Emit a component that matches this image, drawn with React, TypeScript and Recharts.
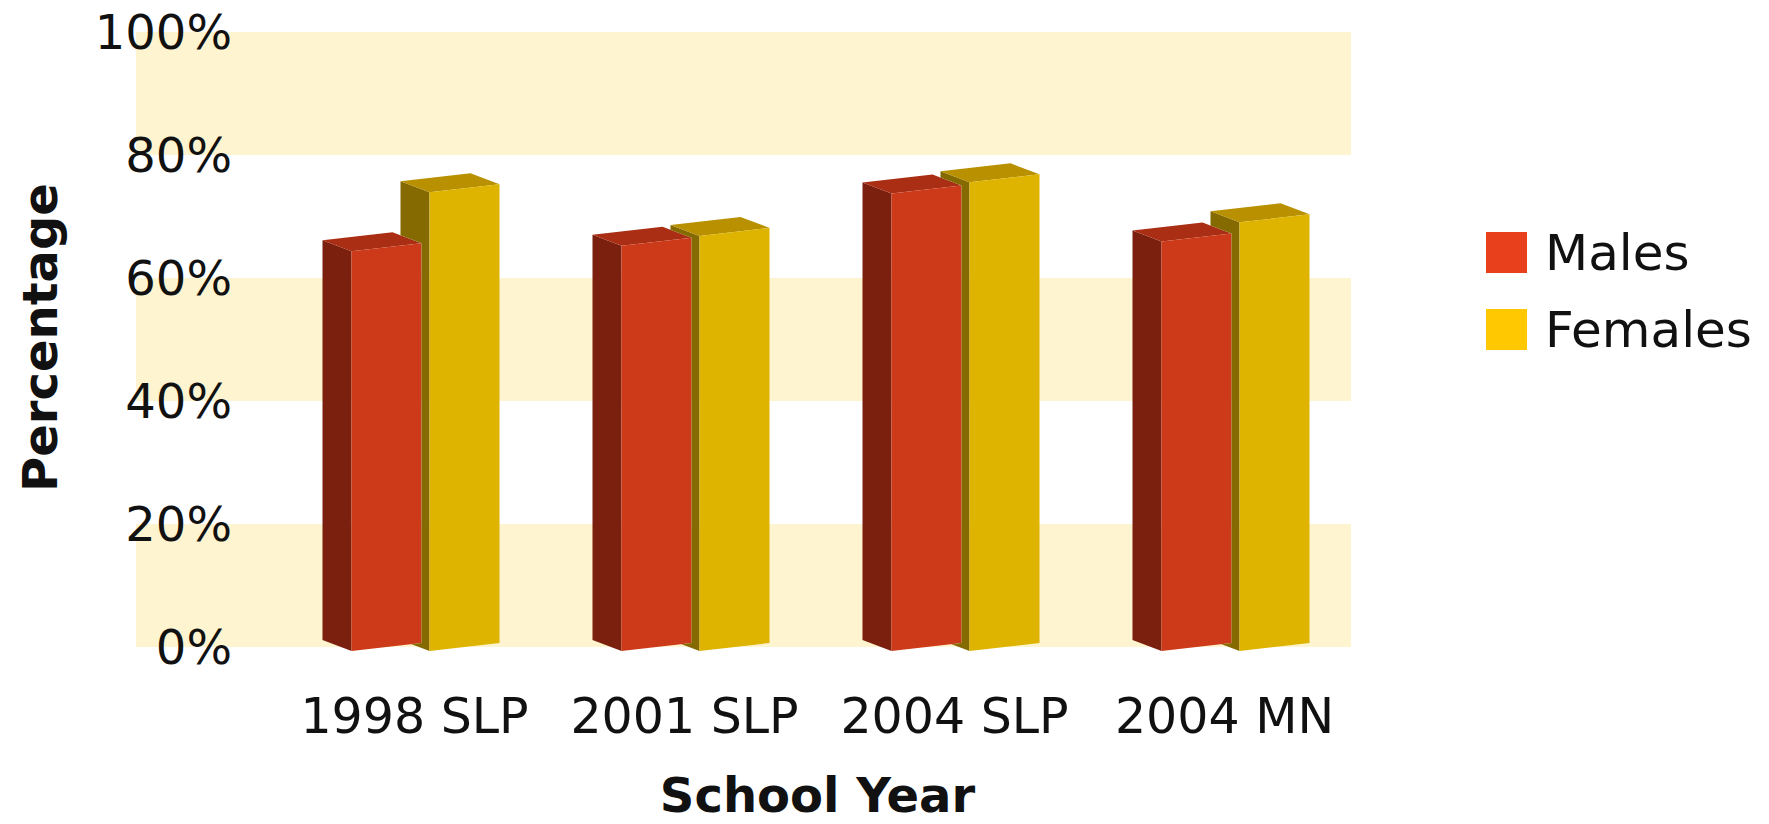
import { BarChart, Bar, XAxis, YAxis, CartesianGrid, Legend, Label } from 'recharts'

const schoolYears = ['1998 SLP', '2001 SLP', '2004 SLP', '2004 MN']
const males = [65, 65.9, 74.4, 66.6]
const females = [74.6, 67.5, 76.2, 69.7]
const percentTicks = [0, 20, 40, 60, 80, 100]
const seriesOrder = ['males', 'females']

const data = schoolYears.map((year, i) => ({ year, males: males[i], females: females[i] }))

const FONT = '"DejaVu Sans", Verdana, sans-serif'
const BAR_SIZE = 70
const BAR_GAP = 8
// fake 3d depth: back face sits up and to the left
const DEPTH_X = -29
const DEPTH_Y = -11
const SKEW = 4

const faces: Record<string, { front: string; side: string; top: string; legend: string }> = {
  males: { front: '#CD3A19', side: '#7B1F0E', top: '#A92E14', legend: '#E8401C' },
  females: { front: '#DEB400', side: '#846A00', top: '#B89000', legend: '#FFC800' },
}

const pts = (list: number[][]) => list.map((p) => p.join(',')).join(' ')

function Bar3D(props: any) {
  const { x, y, width: w, height: h, series, payload, index } = props
  if (!w || h == null) return null
  const c = faces[series]
  const base = y + h
  const front = [
    [x, y + SKEW],
    [x + w, y - SKEW],
    [x + w, base - SKEW],
    [x, base + SKEW],
  ]
  const side = [
    [x + DEPTH_X, y + SKEW + DEPTH_Y],
    [x, y + SKEW],
    [x, base + SKEW],
    [x + DEPTH_X, base + SKEW + DEPTH_Y],
  ]
  const top = [
    [x, y + SKEW],
    [x + w, y - SKEW],
    [x + w + DEPTH_X, y - SKEW + DEPTH_Y],
    [x + DEPTH_X, y + SKEW + DEPTH_Y],
  ]

  // the female side face hides behind the male bar next to it
  let mask: any = null
  if (series === 'females' && payload) {
    const unit = h / payload.females
    const mTop = base - payload.males * unit
    const mR = x - BAR_GAP
    const mL = mR - w
    const silhouette = [
      [mL, mTop + SKEW],
      [mL + DEPTH_X, mTop + SKEW + DEPTH_Y],
      [mR + DEPTH_X, mTop - SKEW + DEPTH_Y],
      [mR, mTop - SKEW],
      [mR, base - SKEW],
      [mL, base + SKEW],
    ]
    mask = (
      <mask id={`fmask-${index}`} maskUnits="userSpaceOnUse" x={0} y={0} width={1769} height={824}>
        <rect x={0} y={0} width={1769} height={824} fill="#fff" />
        <polygon points={pts(silhouette)} fill="#000" />
      </mask>
    )
  }

  return (
    <g>
      {mask && <defs>{mask}</defs>}
      <polygon
        points={pts(side)}
        fill={c.side}
        mask={mask ? `url(#fmask-${index})` : undefined}
      />
      <polygon points={pts(top)} fill={c.top} />
      <polygon points={pts(front)} fill={c.front} />
    </g>
  )
}

function YTick(props: any) {
  const { y, payload } = props
  return (
    <text x={232} y={y} dy="0.36em" textAnchor="end" fontFamily={FONT} fontSize={48} fill="#111">
      {`${payload.value}%`}
    </text>
  )
}

function XTick(props: any) {
  const { x, y, payload } = props
  return (
    <text x={x - 11} y={y + 60} dy="0.36em" textAnchor="middle" fontFamily={FONT} fontSize={49} fill="#111">
      {payload.value}
    </text>
  )
}

function LegendBox(props: any) {
  const items = [...(props.payload || [])].sort(
    (a: any, b: any) => seriesOrder.indexOf(a.dataKey) - seriesOrder.indexOf(b.dataKey)
  )
  return (
    <div style={{ fontFamily: FONT }}>
      {items.map((item: any) => (
        <div
          key={item.value}
          style={{ display: 'flex', alignItems: 'center', height: 77 }}
        >
          <span
            style={{
              width: 41,
              height: 41,
              background: faces[item.dataKey]?.legend,
              display: 'inline-block',
              marginRight: 18,
            }}
          />
          <span style={{ fontSize: 50, color: '#111' }}>{item.value}</span>
        </div>
      ))}
    </div>
  )
}

export default function App() {
  return (
    <div style={{ position: 'absolute', left: 0, top: 0, background: '#fff' }}>
      <BarChart
        width={1769}
        height={824}
        data={data}
        margin={{ top: 32, right: 418, bottom: 0, left: 0 }}
        barSize={BAR_SIZE}
        barGap={BAR_GAP}
      >
        <CartesianGrid
          vertical={false}
          stroke="transparent"
          horizontalFill={['#FEF4CF', 'transparent']}
          fillOpacity={1}
        />
        <XAxis
          dataKey="year"
          axisLine={false}
          tickLine={false}
          height={177}
          interval={0}
          padding={{ left: 154.5, right: -19.5 }}
          tick={<XTick />}
        >
          <Label
            content={({ viewBox }: any) => (
              <text
                x={viewBox.x + viewBox.width / 2 + 74}
                y={viewBox.y + 148}
                dy="0.36em"
                textAnchor="middle"
                fontFamily={FONT}
                fontSize={48}
                fontWeight="bold"
                fill="#111"
              >
                School Year
              </text>
            )}
          />
        </XAxis>
        <YAxis
          domain={[0, 100]}
          ticks={percentTicks}
          axisLine={false}
          tickLine={false}
          width={136}
          tick={<YTick />}
        >
          <Label
            content={({ viewBox }: any) => {
              const cx = 40
              const cy = viewBox.y + viewBox.height / 2 - 2
              return (
                <text
                  x={cx}
                  y={cy}
                  dy="0.36em"
                  transform={`rotate(-90 ${cx} ${cy})`}
                  textAnchor="middle"
                  fontFamily={FONT}
                  fontSize={48}
                  fontWeight="bold"
                  fill="#111"
                >
                  Percentage
                </text>
              )
            }}
          />
        </YAxis>
        <Legend
          layout="vertical"
          verticalAlign="middle"
          align="center"
          content={<LegendBox />}
          wrapperStyle={{ position: 'absolute', left: 1486, top: 214, width: 283 }}
        />
        <Bar
          dataKey="males"
          name="Males"
          fill={faces.males.legend}
          isAnimationActive={false}
          shape={(p: any) => <Bar3D {...p} series="males" />}
        />
        <Bar
          dataKey="females"
          name="Females"
          fill={faces.females.legend}
          isAnimationActive={false}
          shape={(p: any) => <Bar3D {...p} series="females" />}
        />
      </BarChart>
    </div>
  )
}
